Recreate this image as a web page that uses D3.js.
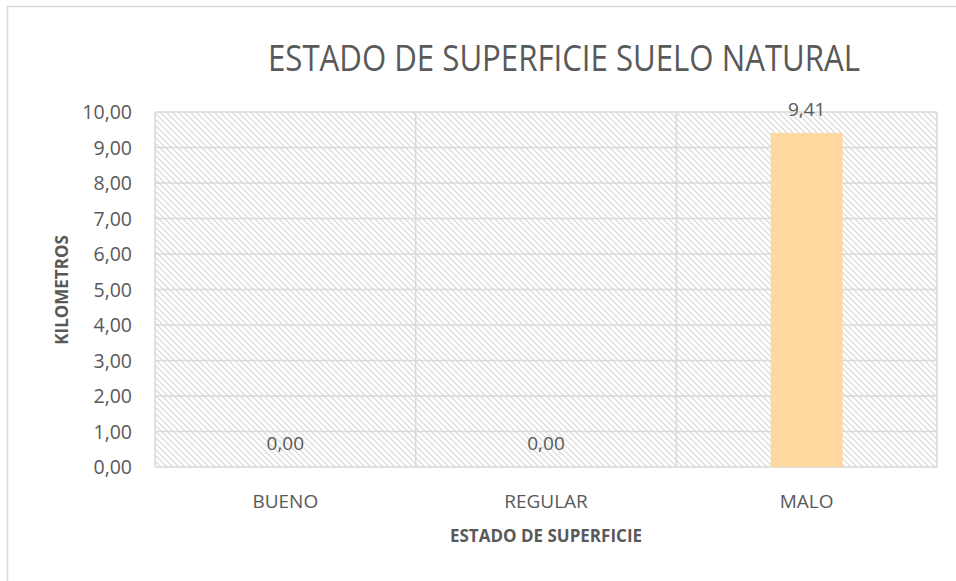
<!DOCTYPE html>
<html>
<head>
<meta charset="utf-8">
<style>
  body{ margin:0; background:#fff; }
  text{ font-family: "Open Sans", "Noto Sans", sans-serif; fill:#595959; }
  .grid line{ stroke:#d9d9d9; stroke-width:1.5; }
  .bar{ fill:#ffd89f; }
</style>
</head>
<body>
<script src="https://cdn.jsdelivr.net/npm/d3@7"></script>
<script>
var width = 956, height = 581;

// datos
var categorias = ["BUENO", "REGULAR", "MALO"];
var kilometros = [0.00, 0.00, 9.41];
var ticksY = [0,1,2,3,4,5,6,7,8,9,10];

var margin = {top:112, right:19, bottom:114, left:155};

var svg = d3.select("body").append("svg")
            .attr("width", width)
            .attr("height", height);

// marco del grafico
svg.append("rect")
   .attr("x", 7.5).attr("y", 6.5)
   .attr("width", width).attr("height", height)
   .attr("fill", "none").attr("stroke", "#d9d9d9").attr("stroke-width", 1.5);

var defs = svg.append("defs");
var pat = defs.append("pattern")
              .attr("id", "rayado")
              .attr("patternUnits", "userSpaceOnUse")
              .attr("width", 6).attr("height", 6);
pat.append("path")
   .attr("d", "M0,0 L6,6 M-1,5 L1,7 M5,-1 L7,1")
   .attr("stroke", "#dcdcdc").attr("stroke-width", 1.3);

var x = d3.scaleBand()
          .domain(categorias)
          .range([margin.left, width - margin.right])
          .paddingInner(0).paddingOuter(0);

var y = d3.scaleLinear()
          .domain([0, 10])
          .range([height - margin.bottom, margin.top]);

// area de trazado con rayado
svg.append("rect")
   .attr("x", margin.left).attr("y", margin.top)
   .attr("width", width - margin.left - margin.right)
   .attr("height", height - margin.top - margin.bottom)
   .attr("fill", "url(#rayado)");

var grid = svg.append("g").attr("class", "grid");
grid.selectAll(".h").data(ticksY).enter().append("line")
    .attr("x1", margin.left).attr("x2", width - margin.right)
    .attr("y1", function(d){ return y(d); })
    .attr("y2", function(d){ return y(d); });
var bordes = categorias.map(function(c){ return x(c); }).concat([width - margin.right]);
grid.selectAll(".v").data(bordes).enter().append("line")
    .attr("y1", margin.top).attr("y2", height - margin.bottom)
    .attr("x1", function(d){ return d; })
    .attr("x2", function(d){ return d; });

// barras
var anchoBarra = 72;
svg.selectAll(".bar").data(kilometros).enter().append("rect")
   .attr("class", "bar")
   .attr("x", function(d,i){ return x(categorias[i]) + x.bandwidth()/2 - anchoBarra/2; })
   .attr("width", anchoBarra)
   .attr("y", function(d){ return y(d); })
   .attr("height", function(d){ return y(0) - y(d); });

var fmt = function(v){ return v.toFixed(2).replace(".", ","); };

// etiquetas de datos
svg.selectAll(".lbl").data(kilometros).enter().append("text")
   .attr("x", function(d,i){ return x(categorias[i]) + x.bandwidth()/2; })
   .attr("y", function(d){ return y(d) - 17; })
   .attr("text-anchor", "middle")
   .style("font-size", "19px")
   .text(fmt);

// eje y
svg.selectAll(".ty").data(ticksY).enter().append("text")
   .attr("x", margin.left - 23)
   .attr("y", function(d){ return y(d) + 7; })
   .attr("text-anchor", "end")
   .style("font-size", "19.5px")
   .text(fmt);

// eje x
svg.selectAll(".tx").data(categorias).enter().append("text")
   .attr("x", function(d){ return x(d) + x.bandwidth()/2; })
   .attr("y", 508)
   .attr("text-anchor", "middle")
   .style("font-size", "19px")
   .text(function(d){ return d; });

// titulos
svg.append("text")
   .attr("x", 564).attr("y", 71)
   .attr("text-anchor", "middle")
   .attr("textLength", 592).attr("lengthAdjust", "spacingAndGlyphs")
   .style("font-size", "36px")
   .text("ESTADO DE SUPERFICIE SUELO NATURAL");

svg.append("text")
   .attr("x", 546).attr("y", 542)
   .attr("text-anchor", "middle")
   .style("font-size", "17px").style("font-weight", "bold")
   .text("ESTADO DE SUPERFICIE");

svg.append("text")
   .attr("transform", "translate(68,290) rotate(-90)")
   .attr("text-anchor", "middle")
   .style("font-size", "17px").style("font-weight", "bold")
   .text("KILOMETROS");
</script>
</body>
</html>
